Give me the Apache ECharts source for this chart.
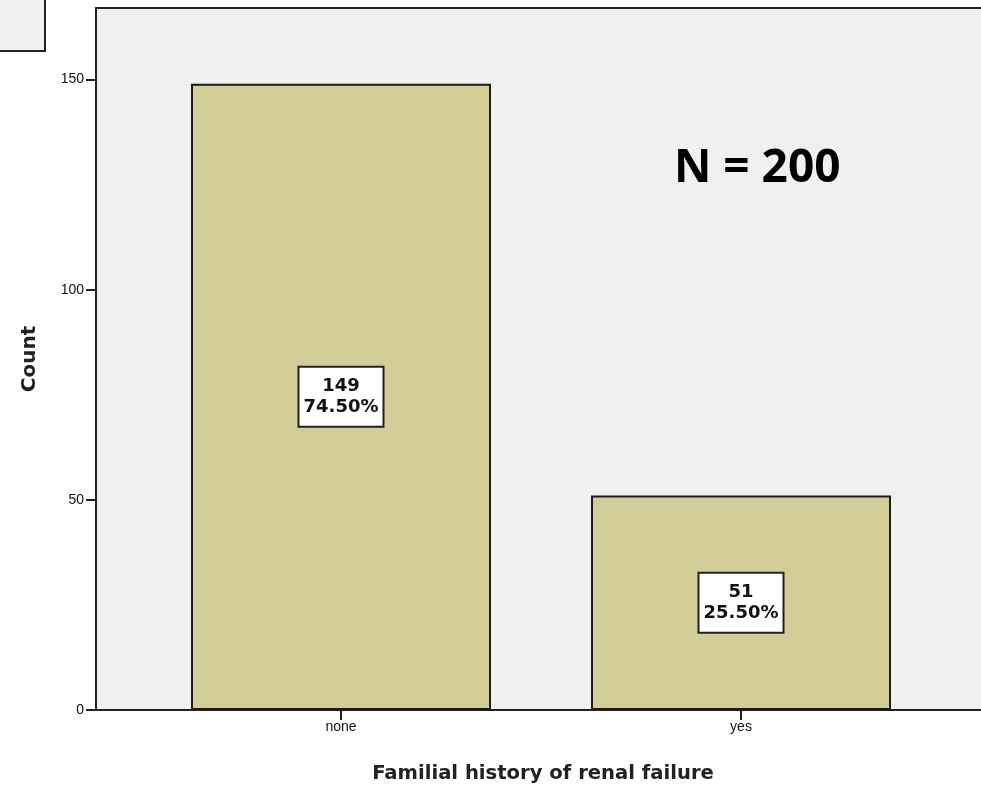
<!DOCTYPE html>
<html>
<head>
<meta charset="utf-8">
<script src="https://cdn.jsdelivr.net/npm/echarts@6/dist/echarts.min.js"></script>
<style>html,body{margin:0;padding:0;background:#fff;}#c{width:981px;height:787px;}</style>
</head>
<body>
<div id="c"></div>
<script>
const categories = ['none', 'yes'];
const counts = [149, 51];
const percents = ['74.50%', '25.50%'];
const yTicks = [0, 50, 100, 150];
const totalN = 200;

const chart = echarts.init(document.getElementById('c'), null, {renderer: 'canvas'});
const catIdx = categories.map((_, i) => i);
chart.setOption({
  animation: false,
  backgroundColor: '#ffffff',
  title: {
    text: 'N = ' + totalN,
    left: 669, top: 141,
    textStyle: {fontFamily: 'Open Sans', fontWeight: 'bold', fontSize: 46, color: '#000'}
  },
  graphic: [{
    type: 'rect', shape: {x: -3, y: -3, width: 48, height: 54},
    style: {fill: '#f0f0f0', stroke: '#222', lineWidth: 2}
  }],
  grid: {
    left: 96, top: 8, bottom: 77, width: 894,
    outerBoundsMode: 'none',
    show: true, backgroundColor: '#f0f0f0', borderColor: '#222', borderWidth: 2,
    containLabel: false
  },
  xAxis: {
    type: 'value', min: -0.6125, max: 1.6225,
    splitLine: {show: false},
    axisLine: {show: true, onZero: false, lineStyle: {color: '#222', width: 2}},
    axisTick: {show: true, customValues: catIdx, length: 10, lineStyle: {color: '#222', width: 2}},
    axisLabel: {customValues: catIdx, formatter: v => categories[Math.round(v)], margin: 10,
      fontFamily: 'Liberation Sans', fontSize: 14, color: '#111'},
    name: 'Familial history of renal failure', nameLocation: 'middle', nameGap: 54,
    nameTextStyle: {fontFamily: 'DejaVu Sans', fontWeight: 'bold', fontSize: 19.6, color: '#222'}
  },
  yAxis: {
    type: 'value', min: 0, max: 167,
    splitLine: {show: false},
    axisLine: {show: true, onZero: false, lineStyle: {color: '#222', width: 2}},
    axisTick: {show: true, customValues: yTicks, length: 10, lineStyle: {color: '#222', width: 2}},
    axisLabel: {customValues: yTicks, margin: 12, fontFamily: 'Liberation Sans', fontSize: 14, color: '#111'},
    name: 'Count', nameLocation: 'middle', nameGap: 56,
    nameTextStyle: {fontFamily: 'DejaVu Sans', fontWeight: 'bold', fontSize: 20, color: '#222'}
  },
  series: [{
    type: 'bar',
    barWidth: 300,
    data: counts.map((v, i) => [i, v]),
    itemStyle: {color: '#d3cd98', borderColor: '#1a1a1a', borderWidth: 2},
    label: {
      show: true, position: 'inside',
      formatter: p => counts[p.dataIndex] + '\n' + percents[p.dataIndex],
      fontFamily: 'DejaVu Sans', fontWeight: 'bold', fontSize: 18, lineHeight: 21, color: '#111',
      backgroundColor: '#ffffff', borderColor: '#222', borderWidth: 2, padding: [8, 4, 8, 4], align: 'center'
    }
  }]
});
</script>
</body>
</html>
